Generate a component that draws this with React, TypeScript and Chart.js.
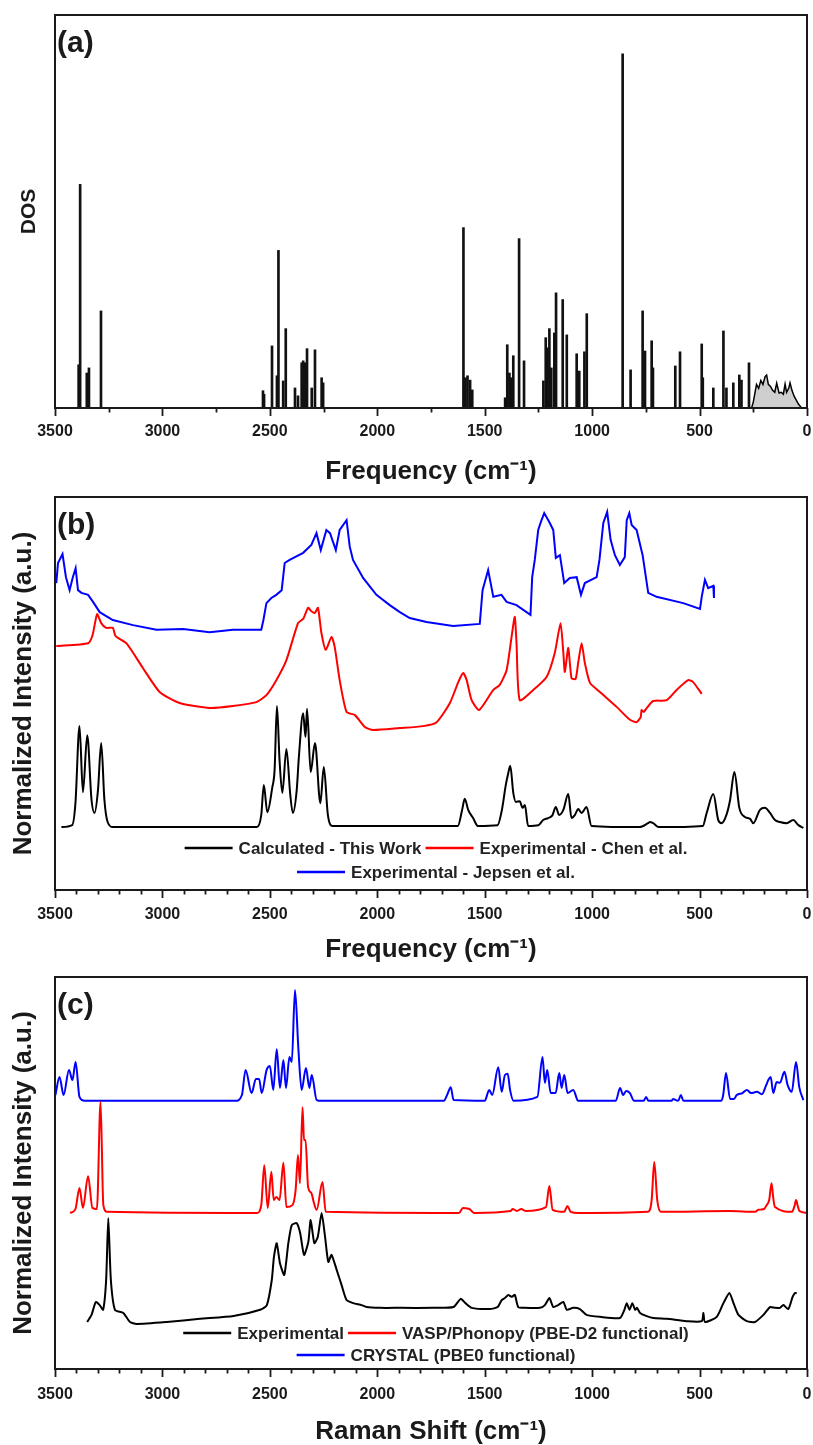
import React, { useEffect, useRef } from 'react';
import { Chart, registerables } from 'chart.js';

Chart.register(...registerables);

const FONT = '"Liberation Sans", Arial, Helvetica, sans-serif';
const INK = '#1a1a1a';

// ---------- Panel (a): phonon DOS ----------
const dosStickFreq = [3390, 3383, 3352, 3342, 3286,
  2532, 2527, 2490, 2467, 2460, 2438, 2426, 2383, 2369, 2352, 2345, 2336, 2327, 2305, 2290, 2259, 2252,
  1599, 1590, 1580, 1568, 1558,
  1405, 1395, 1385, 1378, 1372, 1367, 1340, 1317,
  1227, 1216, 1208, 1199, 1190, 1176, 1168, 1137, 1118, 1072, 1060, 1036, 1025,
  858, 821, 765, 754, 723, 717, 613, 591, 490, 485, 436, 389, 375, 343, 315, 305, 270];
const dosStickHeight = [11, 56.9, 8.9, 10.2, 24.7,
  4.4, 3.5, 15.8, 8.2, 40.1, 6.9, 20.2, 5.1, 3.1, 11.5, 12.0, 11.5, 15.1, 5.1, 14.8, 7.7, 6.4,
  45.9, 7.7, 8.2, 7.1, 4.6,
  2.6, 16.1, 8.9, 7.7, 6.4, 13.3, 43.1, 12.0,
  6.9, 17.9, 15.3, 20.2, 10.2, 19.1, 29.3, 27.6, 18.6, 13.8, 9.4, 14.3, 24.0,
  90.1, 9.7, 24.7, 14.5, 17.1, 10.2, 10.7, 14.3, 16.3, 7.7, 5.1, 19.6, 5.1, 6.4, 8.4, 7.1, 11.5];
const dosLowFreq: [number, number][] = [
  [258, 0], [250, 1.5], [245, 3], [235, 6], [225, 5], [215, 7], [205, 6], [195, 8], [188, 8.4], [180, 6],
  [170, 5.5], [160, 4.5], [150, 4], [141, 6.3], [130, 3.8], [120, 4], [110, 3.5], [102, 6.1], [95, 4],
  [85, 5], [79, 6.4], [70, 4.5], [60, 3], [50, 2], [40, 1], [25, 0]];

// ---------- Panel (b): IR / INS comparison ----------
const calcB: [number, number][] = [
  [3470, 16.0], [3420, 16.5], [3405, 22], [3386, 41.7], [3370, 24.9], [3350, 39.4], [3330, 22.9], [3316, 19.6],
  [3300, 25.4], [3285, 37.4], [3270, 22.9], [3255, 17.3], [3230, 16.0], [2560, 16.0], [2540, 19.1], [2528, 26.7],
  [2512, 19.8], [2489, 26.0], [2478, 30.5], [2467, 46.8], [2455, 33.1], [2442, 24.7], [2423, 35.9], [2405, 24.2],
  [2393, 19.6], [2375, 25.4], [2365, 33.8], [2345, 45.0], [2334, 38.9], [2327, 46.1], [2310, 30.0], [2290, 37.4],
  [2265, 22.1], [2249, 31.3], [2230, 19.1], [2208, 16.3], [1625, 16.3], [1605, 20.4], [1593, 23.2], [1577, 20.4],
  [1554, 18.3], [1532, 16.3], [1440, 16.5], [1420, 20.4], [1402, 26.7], [1392, 29.3], [1381, 31.6], [1367, 24.7],
  [1355, 22.4], [1337, 22.6], [1324, 20.9], [1313, 21.6], [1298, 16.3], [1250, 16.5], [1228, 17.8], [1205, 18.3],
  [1185, 19], [1169, 21.1], [1154, 19.1], [1134, 20.4], [1111, 24.4], [1096, 18.3], [1080, 19.1], [1065, 20.6],
  [1049, 19.6], [1026, 21.1], [1003, 16.3], [780, 16.0], [740, 17.0], [731, 17.3], [716, 17.0], [690, 16.0],
  [485, 16.3], [467, 19.6], [436, 24.4], [413, 17.8], [397, 17.0], [375, 19.1], [358, 22.9], [338, 30.0],
  [315, 20.9], [289, 18.6], [265, 18.1], [250, 17.0], [219, 20.4], [196, 20.9], [172, 19.6], [149, 17.8],
  [126, 17.3], [95, 17.0], [64, 17.8], [40, 16.5], [17, 15.8]];
const chenB: [number, number][] = [
  [3494, 62.1], [3346, 62.8], [3325, 64.9], [3304, 70.2], [3285, 67.9], [3262, 66.7], [3231, 66.7], [3218, 64.6],
  [3168, 62.8], [3091, 56.5], [3013, 50.4], [2920, 47.6], [2780, 46.3], [2672, 46.8], [2563, 47.8], [2516, 49.6],
  [2470, 53.4], [2423, 58.5], [2369, 67.9], [2345, 69.0], [2322, 71.8], [2308, 71.0], [2291, 70.5], [2276, 71.8],
  [2260, 65.4], [2240, 61.1], [2213, 64.4], [2198, 61.8], [2175, 53.4], [2143, 45.3], [2104, 44.5], [2058, 41.5],
  [2020, 40.7], [1895, 41.2], [1787, 41.7], [1724, 42.7], [1662, 47.6], [1623, 52.9], [1600, 55.2], [1584, 53.4],
  [1561, 48.3], [1526, 45.8], [1460, 50.9], [1430, 52.2], [1398, 56.0], [1375, 64.4], [1360, 69.5], [1352, 62.8],
  [1337, 48.3], [1274, 50.9], [1212, 54.2], [1174, 60.3], [1147, 67.9], [1134, 60.3], [1127, 55.5], [1111, 61.6],
  [1096, 53.9], [1077, 53.7], [1065, 57.8], [1049, 62.8], [1034, 57.8], [1010, 52.7], [964, 50.4], [886, 46.6],
  [824, 43.3], [793, 42.7], [774, 44.0], [770, 45.8], [760, 45.3], [746, 46.3], [716, 48.1], [653, 48.3],
  [607, 50.9], [553, 53.4], [530, 52.9], [490, 49.9]];
const jepsenB: [number, number][] = [
  [3494, 78.1], [3486, 83.2], [3465, 85.5], [3449, 79.6], [3432, 76.3], [3417, 79.6], [3404, 81.9], [3393, 76.3],
  [3377, 75.6], [3346, 75.1], [3323, 73.3], [3292, 70.7], [3231, 68.7], [3137, 67.4], [3028, 66.2], [2904, 66.4],
  [2780, 65.6], [2672, 66.2], [2540, 66.2], [2530, 68.7], [2516, 73.0], [2493, 74.3], [2470, 75.1], [2445, 76.3],
  [2431, 83.2], [2408, 84.0], [2345, 85.8], [2307, 87.8], [2283, 90.8], [2263, 86.5], [2237, 91.6], [2220, 90.8],
  [2193, 86.5], [2175, 91.6], [2143, 94.1], [2128, 87.3], [2113, 84.0], [2066, 79.4], [2004, 75.1], [1942, 72.5],
  [1895, 70.7], [1849, 69.2], [1771, 68.2], [1647, 67.2], [1523, 67.7], [1510, 76.3], [1484, 81.4], [1460, 74.6],
  [1422, 75.1], [1398, 73.3], [1352, 72.5], [1287, 70.0], [1279, 79.6], [1267, 84.0], [1251, 91.6], [1239, 93.6],
  [1223, 95.9], [1197, 93.4], [1181, 91.6], [1169, 84.5], [1150, 85.2], [1130, 78.1], [1104, 79.4], [1072, 79.6],
  [1052, 75.1], [1034, 78.1], [979, 79.6], [966, 84.0], [948, 93.4], [930, 96.2], [914, 89.1], [894, 85.2],
  [871, 82.7], [848, 84.7], [839, 94.1], [827, 95.9], [816, 92.9], [793, 91.6], [765, 85.2], [739, 75.6],
  [700, 74.6], [576, 73.0], [498, 71.5], [490, 74.6], [475, 78.9], [460, 76.8], [436, 77.4], [433, 74.3]];

// ---------- Panel (c): Raman comparison ----------
const expC: [number, number][] = [
  [3350, 12.0], [3330, 13.8], [3310, 17.1], [3292, 16.3], [3276, 15.1], [3262, 22.7], [3252, 38.5], [3240, 22.7],
  [3221, 15.1], [3182, 14.3], [3151, 12.0], [3120, 11.5], [2980, 12.0], [2825, 12.8], [2669, 13.5], [2545, 15.1],
  [2514, 16.3], [2491, 22.7], [2481, 28.6], [2468, 32.1], [2453, 27.0], [2433, 24.0], [2414, 32.1], [2398, 36.7],
  [2375, 37.2], [2359, 34.7], [2341, 29.1], [2321, 32.4], [2310, 38.0], [2293, 32.1], [2277, 33.7], [2259, 39.8],
  [2243, 33.7], [2228, 27.3], [2213, 29.1], [2189, 25.3], [2166, 21.4], [2143, 17.6], [2112, 16.8], [2073, 16.3],
  [2050, 15.8], [1987, 15.6], [1894, 15.6], [1739, 15.6], [1646, 15.8], [1612, 17.9], [1590, 16.8], [1561, 15.6],
  [1476, 15.3], [1440, 15.8], [1421, 17.6], [1406, 18.1], [1391, 18.9], [1375, 18.4], [1360, 18.9], [1344, 15.8],
  [1313, 15.6], [1243, 15.6], [1220, 16.3], [1199, 18.1], [1181, 15.8], [1158, 16.3], [1134, 17.1], [1118, 15.1],
  [1088, 15.6], [1057, 15.3], [1026, 13.8], [964, 13.3], [871, 13.0], [850, 15.1], [839, 16.8], [826, 15.1],
  [813, 16.8], [800, 15.1], [791, 15.6], [777, 14.3], [746, 13.5], [716, 13.0], [653, 12.8], [560, 12.2],
  [490, 12.2], [482, 14.3], [475, 12.0], [420, 13.3], [389, 16.8], [361, 19.4], [342, 16.8], [319, 13.8],
  [280, 12.2], [242, 12.0], [203, 13.8], [172, 15.8], [149, 15.6], [126, 15.6], [110, 16.3], [87, 15.3],
  [67, 18.4], [56, 19.4], [48, 19.4]];
const vaspC: [number, number][] = [
  [3430, 39.8], [3405, 40.8], [3386, 46.2], [3370, 41.1], [3346, 49.2], [3326, 41.1], [3305, 40.8], [3288, 68.1],
  [3275, 41.8], [3258, 40.1], [2560, 39.8], [2540, 41.8], [2526, 52.0], [2510, 41.1], [2493, 50.3], [2482, 43.1],
  [2470, 43.9], [2455, 43.1], [2437, 52.6], [2423, 41.3], [2395, 41.8], [2380, 45.7], [2369, 54.6], [2360, 47.4],
  [2348, 66.8], [2341, 58.4], [2334, 58.4], [2322, 46.4], [2307, 44.9], [2296, 42.6], [2282, 40.6], [2255, 47.7],
  [2240, 40.1], [1620, 39.8], [1601, 41.1], [1587, 41.0], [1570, 40.8], [1550, 39.8], [1380, 40.3], [1370, 40.8],
  [1350, 40.3], [1330, 40.8], [1310, 40.3], [1215, 41.3], [1199, 46.7], [1184, 40.6], [1130, 40.1], [1115, 41.6],
  [1100, 40.1], [1065, 39.8], [740, 40.1], [723, 43.1], [711, 52.8], [697, 43.1], [680, 40.1], [362, 40.3],
  [240, 40.1], [227, 40.6], [200, 40.8], [188, 41.8], [176, 43.1], [165, 47.4], [157, 43.6], [149, 41.3],
  [70, 40.1], [58, 41.6], [51, 43.1], [43, 41.6], [35, 40.3], [0, 39.8]];
const crystalC: [number, number][] = [
  [3498, 69.9], [3479, 74.5], [3460, 69.9], [3435, 76.3], [3419, 73.7], [3404, 78.3], [3386, 69.4], [3362, 68.4],
  [2660, 68.4], [2630, 69.9], [2613, 76.3], [2585, 70.4], [2565, 74.0], [2550, 74.0], [2538, 70.4], [2515, 76.3],
  [2500, 77.3], [2484, 71.2], [2468, 81.6], [2453, 71.7], [2437, 78.8], [2425, 71.7], [2409, 79.6], [2398, 78.3],
  [2383, 96.7], [2367, 81.4], [2352, 71.2], [2332, 76.8], [2316, 71.7], [2305, 75.0], [2282, 68.6], [2260, 68.4],
  [1690, 68.4], [1675, 69.9], [1658, 71.9], [1645, 68.6], [1500, 68.4], [1479, 71.2], [1465, 69.9], [1437, 77.0],
  [1421, 70.7], [1406, 75.0], [1393, 75.3], [1382, 71.2], [1366, 68.4], [1255, 69.4], [1231, 79.6], [1220, 73.0],
  [1209, 76.3], [1193, 70.4], [1170, 70.4], [1153, 75.5], [1142, 71.7], [1130, 75.0], [1114, 70.4], [1088, 71.2],
  [1065, 68.4], [890, 68.4], [870, 71.7], [856, 69.9], [842, 70.9], [824, 70.4], [805, 68.4], [760, 68.4],
  [749, 69.4], [738, 68.4], [630, 68.4], [624, 68.9], [600, 68.4], [587, 69.9], [575, 68.4], [400, 68.4],
  [390, 69.9], [377, 75.5], [358, 68.9], [340, 68.9], [327, 69.9], [300, 70.4], [280, 71.2], [260, 70.4],
  [233, 70.7], [210, 70.1], [190, 72.4], [180, 73.7], [169, 74.5], [157, 70.4], [141, 73.2], [126, 73.0],
  [105, 75.8], [90, 72.4], [71, 70.7], [51, 78.3], [36, 71.9], [17, 68.6]];

const legendB = [
  [{ text: 'Calculated - This Work', color: '#000000' }, { text: 'Experimental - Chen et al.', color: '#ff0000' }],
  [{ text: 'Experimental - Jepsen et al.', color: '#0000ff' }],
];
const legendC = [
  [{ text: 'Experimental', color: '#000000' }, { text: 'VASP/Phonopy (PBE-D2 functional)', color: '#ff0000' }],
  [{ text: 'CRYSTAL (PBE0 functional)', color: '#0000ff' }],
];

type LegendRow = { text: string; color: string }[];

function decorPlugin(label: string, minorStep: number, legend?: LegendRow[], legendOffsets?: number[]) {
  return {
    id: 'decor',
    afterDraw(chart: any) {
      const { ctx, chartArea } = chart;
      const { left, right, top, bottom } = chartArea;
      const xs = chart.scales.x;
      ctx.save();
      ctx.strokeStyle = INK;
      ctx.lineWidth = 2;
      ctx.strokeRect(left, top, right - left, bottom - top);
      ctx.lineWidth = 1.8;
      for (let v = 0; v <= 3500; v += minorStep) {
        const px = Math.round(xs.getPixelForValue(v)) + 0.5;
        const len = v % 500 === 0 ? 8 : 4.5;
        ctx.beginPath();
        ctx.moveTo(px, bottom);
        ctx.lineTo(px, bottom + len);
        ctx.stroke();
      }
      ctx.fillStyle = INK;
      ctx.font = `bold 30px ${FONT}`;
      ctx.textBaseline = 'top';
      ctx.textAlign = 'left';
      ctx.fillText(label, left + 2, top + 14);
      if (legend && legendOffsets) {
        ctx.font = `bold 17px ${FONT}`;
        ctx.textBaseline = 'middle';
        const seg = 48, gapText = 6, gapItem = 4;
        const cx = (left + right) / 2 + 5;
        legend.forEach((row, i) => {
          const widths = row.map((it) => seg + gapText + ctx.measureText(it.text).width);
          const total = widths.reduce((a, b) => a + b, 0) + gapItem * (row.length - 1);
          let x = cx - total / 2;
          const y = bottom - legendOffsets[i];
          row.forEach((it, j) => {
            ctx.strokeStyle = it.color;
            ctx.lineWidth = 2.5;
            ctx.beginPath();
            ctx.moveTo(x, y);
            ctx.lineTo(x + seg, y);
            ctx.stroke();
            ctx.fillStyle = '#222';
            ctx.fillText(it.text, x + seg + gapText, y + 1);
            x += widths[j] + gapItem;
          });
        });
      }
      ctx.restore();
    },
  };
}

function axes(opts: { xHeight: number; xTitle: string; xTitleSize: number; xTitlePad: number; tickPad: number; yTitle: string; yTitleSize: number; yTitlePad: number }) {
  return {
    x: {
      type: 'linear',
      min: 0,
      max: 3500,
      reverse: true,
      offset: false,
      afterFit: (s: any) => { s.height = opts.xHeight; s.paddingLeft = 0; s.paddingRight = 0; },
      grid: { display: false, drawTicks: false },
      border: { display: false },
      ticks: {
        stepSize: 500,
        autoSkip: false,
        maxRotation: 0,
        padding: opts.tickPad,
        color: INK,
        font: { family: FONT, size: 16, weight: 'bold' },
        callback: (v: any) => String(v),
      },
      title: {
        display: true,
        text: opts.xTitle,
        color: INK,
        font: { family: FONT, size: opts.xTitleSize, weight: 'bold', lineHeight: 1 },
        padding: { top: 0, bottom: opts.xTitlePad },
      },
    },
    y: {
      type: 'linear',
      min: 0,
      max: 100,
      afterFit: (s: any) => { s.width = 55; s.paddingTop = 0; s.paddingBottom = 0; },
      grid: { display: false, drawTicks: false },
      border: { display: false },
      ticks: { display: false },
      title: {
        display: true,
        text: opts.yTitle,
        color: INK,
        font: { family: FONT, size: opts.yTitleSize, weight: 'bold', lineHeight: 1 },
        padding: { top: opts.yTitlePad, bottom: 0 },
      },
    },
  };
}

const common = (top: number) => ({
  responsive: false,
  maintainAspectRatio: false,
  animation: false,
  layout: { padding: { top, right: 6, left: 0, bottom: 0 } },
  plugins: { legend: { display: false }, tooltip: { enabled: false } },
  elements: { point: { radius: 0 } },
});

const toXY = (arr: [number, number][]) => arr.map(([x, y]) => ({ x, y }));

export default function App() {
  const aRef = useRef<HTMLCanvasElement>(null);
  const bRef = useRef<HTMLCanvasElement>(null);
  const cRef = useRef<HTMLCanvasElement>(null);

  useEffect(() => {
    const charts: Chart[] = [];
    if (aRef.current) {
      charts.push(new Chart(aRef.current, {
        type: 'bar',
        data: {
          datasets: [
            {
              type: 'line',
              label: 'DOS continuum',
              data: toXY(dosLowFreq),
              borderColor: '#000',
              borderWidth: 1.5,
              backgroundColor: '#cfcfcf',
              fill: 'origin',
              pointRadius: 0,
              tension: 0,
            } as any,
            {
              type: 'bar',
              label: 'DOS',
              data: dosStickFreq.map((f, i) => ({ x: f, y: dosStickHeight[i] })),
              backgroundColor: '#111',
              barThickness: 2,
              grouped: false,
            } as any,
          ],
        },
        options: {
          ...common(15),
          scales: axes({ xHeight: 87, xTitle: 'Frequency (cm⁻¹)', xTitleSize: 26, xTitlePad: 10, tickPad: 14, yTitle: 'DOS', yTitleSize: 21, yTitlePad: 19 }),
        } as any,
        plugins: [decorPlugin('(a)', 250)],
      }));
    }
    if (bRef.current) {
      charts.push(new Chart(bRef.current, {
        type: 'line',
        data: {
          datasets: [
            { label: 'Calculated - This Work', data: toXY(calcB), borderColor: '#000', borderWidth: 2, pointRadius: 0, cubicInterpolationMode: 'monotone' },
            { label: 'Experimental - Chen et al.', data: toXY(chenB), borderColor: '#ff0000', borderWidth: 2, pointRadius: 0, tension: 0.2 },
            { label: 'Experimental - Jepsen et al.', data: toXY(jepsenB), borderColor: '#0000ff', borderWidth: 2, pointRadius: 0, tension: 0 },
          ] as any,
        },
        options: {
          ...common(2),
          scales: axes({ xHeight: 75, xTitle: 'Frequency (cm⁻¹)', xTitleSize: 26, xTitlePad: 2, tickPad: 15, yTitle: 'Normalized Intensity (a.u.)', yTitleSize: 26, yTitlePad: 11 }),
        } as any,
        plugins: [decorPlugin('(b)', 100, legendB, [42, 18])],
      }));
    }
    if (cRef.current) {
      charts.push(new Chart(cRef.current, {
        type: 'line',
        data: {
          datasets: [
            { label: 'Experimental', data: toXY(expC), borderColor: '#000', borderWidth: 2, pointRadius: 0, tension: 0.2 },
            { label: 'VASP/Phonopy (PBE-D2 functional)', data: toXY(vaspC), borderColor: '#ff0000', borderWidth: 2, pointRadius: 0, cubicInterpolationMode: 'monotone' },
            { label: 'CRYSTAL (PBE0 functional)', data: toXY(crystalC), borderColor: '#0000ff', borderWidth: 2, pointRadius: 0, cubicInterpolationMode: 'monotone' },
          ] as any,
        },
        options: {
          ...common(12),
          scales: axes({ xHeight: 76, xTitle: 'Raman Shift (cm⁻¹)', xTitleSize: 26, xTitlePad: 0, tickPad: 16, yTitle: 'Normalized Intensity (a.u.)', yTitleSize: 26, yTitlePad: 11 }),
        } as any,
        plugins: [decorPlugin('(c)', 100, legendC, [36, 14])],
      }));
    }
    return () => { charts.forEach((c) => c.destroy()); };
  }, []);

  const canvasStyle = (top: number, h: number): React.CSSProperties => ({ position: 'absolute', left: 0, top, width: 813, height: h, display: 'block' });

  return (
    <div style={{ position: 'absolute', left: 0, top: 0, width: 813, height: 1445, background: '#ffffff', overflow: 'hidden' }}>
      <canvas ref={aRef} width={813} height={495} style={canvasStyle(0, 495)} />
      <canvas ref={bRef} width={813} height={470} style={canvasStyle(495, 470)} />
      <canvas ref={cRef} width={813} height={480} style={canvasStyle(965, 480)} />
    </div>
  );
}
